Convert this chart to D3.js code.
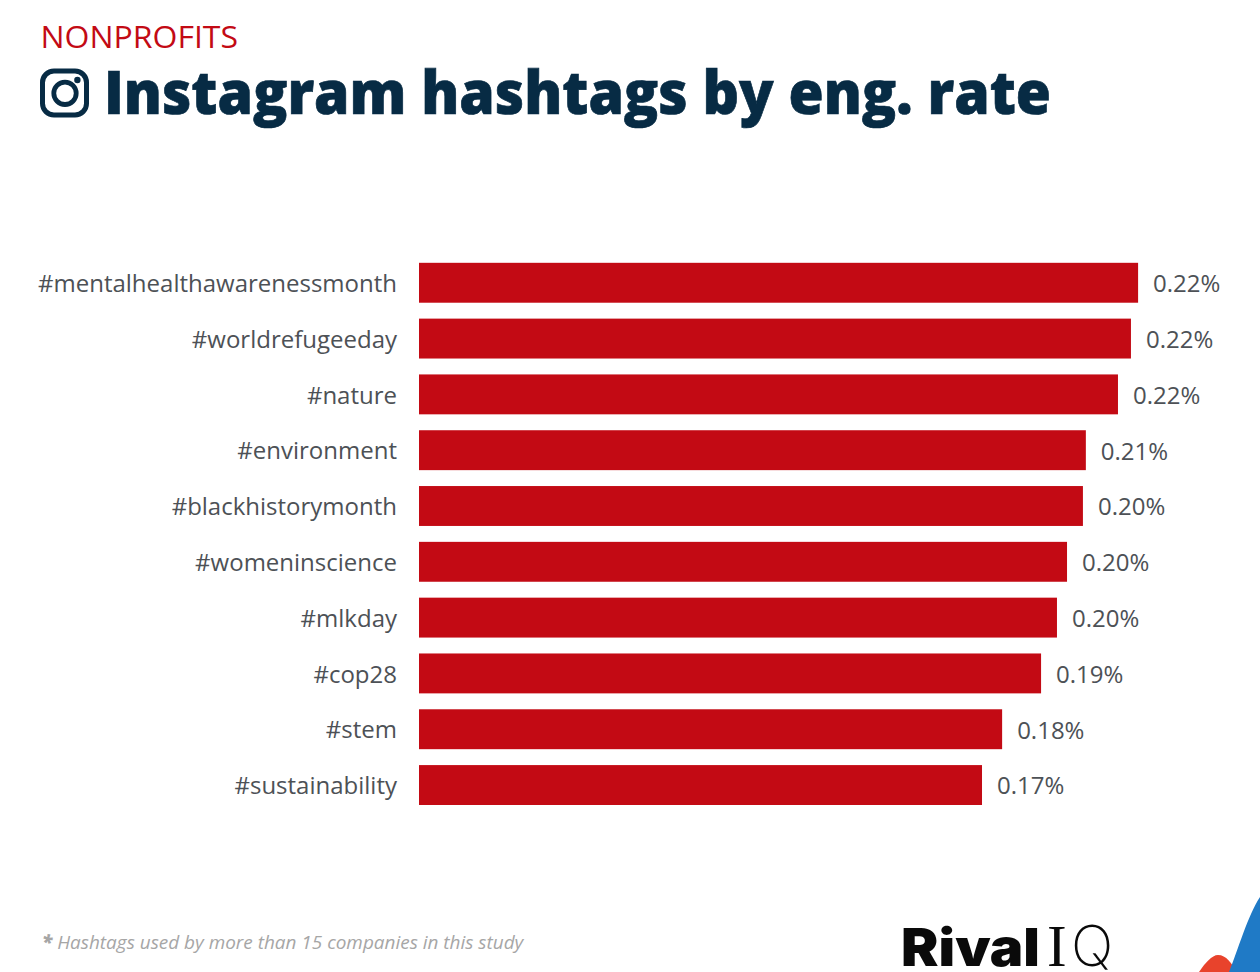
<!DOCTYPE html>
<html><head><meta charset="utf-8">
<script src="https://cdn.jsdelivr.net/npm/d3@7"></script>
<style>html,body{margin:0;padding:0;background:#fff;overflow:hidden}svg{display:block}</style>
</head><body><div id="c"></div>
<script>
const categories=["#mentalhealthawarenessmonth","#worldrefugeeday","#nature","#environment","#blackhistorymonth","#womeninscience","#mlkday","#cop28","#stem","#sustainability"];
const values=[0.2216,0.2194,0.2154,0.2055,0.2046,0.1997,0.1966,0.1917,0.1797,0.1735];
const kicker="NONPROFITS";
const title="Instagram hashtags by eng. rate";
const footnoteMark="*";
const footnote="Hashtags used by more than 15 companies in this study";

const W=1260,H=972;
const svg=d3.select("#c").append("svg").attr("width",W).attr("height",H).attr("viewBox",`0 0 ${W} ${H}`);
const font="'Open Sans',sans-serif";
const red="#c30a14",navy="#072b44",gray="#4d5156";

svg.append("text").attr("x",40.5).attr("y",48).attr("font-family",font).attr("font-size",31.5).attr("fill",red).attr("textLength",197.5).attr("lengthAdjust","spacingAndGlyphs").text(kicker);
svg.append("text").attr("x",104).attr("y",114).attr("font-family",font).attr("font-weight",800).attr("font-size",60).attr("fill",navy).attr("stroke",navy).attr("stroke-width",0.7).attr("textLength",947).attr("lengthAdjust","spacingAndGlyphs").text(title);

// Instagram glyph
const ig=svg.append("g").attr("fill","none").attr("stroke",navy);
ig.append("rect").attr("x",42.5).attr("y",71).attr("width",44).attr("height",44).attr("rx",11.5).attr("stroke-width",5);
ig.append("circle").attr("cx",65).attr("cy",93.3).attr("r",11.2).attr("stroke-width",4.8);
ig.append("circle").attr("cx",77.4).attr("cy",80).attr("r",3.2).attr("fill",navy).attr("stroke","none");

// chart
const x=d3.scaleLinear().domain([0,0.25]).range([419,419+811.25]);
const y=d3.scaleBand().domain(categories).range([255,812.8]).paddingInner(0.285).paddingOuter(0.14);
const fmt=d3.format(".2f");

svg.append("g").selectAll("rect").data(categories).join("rect")
 .attr("x",x(0)).attr("y",d=>y(d)).attr("width",(d,i)=>x(values[i])-x(0)).attr("height",y.bandwidth()).attr("fill",red);

const yAxis=d3.axisLeft(y).tickSize(0).tickPadding(22);
const ax=svg.append("g").attr("transform",`translate(${x(0)},0.5)`).call(yAxis);
ax.select(".domain").remove();
ax.selectAll("text").attr("font-family",font).attr("font-size",24).attr("fill",gray).attr("dy","0.36em");

svg.append("g").selectAll("text").data(categories).join("text")
 .attr("x",(d,i)=>x(values[i])+15).attr("y",d=>y(d)+y.bandwidth()/2+0.5).attr("dy","0.37em")
 .attr("font-family",font).attr("font-size",24).attr("fill",gray)
 .text((d,i)=>fmt(values[i])+"%");

// footnote
const fn=svg.append("text").attr("x",42).attr("y",949).attr("font-family",font).attr("font-style","italic").attr("font-size",18.95).attr("fill","#a6a6a6");
fn.append("tspan").attr("font-weight",800).text(footnoteMark+" ");
fn.append("tspan").text(footnote);

// logo
svg.append("text").attr("x",901).attr("y",966).attr("font-family","Inter,sans-serif").attr("font-weight",900).attr("font-size",52).attr("fill","#0a0a0a").attr("textLength",139).attr("lengthAdjust","spacingAndGlyphs").text("Rival");
const iq=svg.append("text").attr("y",966).attr("fill","#0a0a0a");
iq.append("tspan").attr("x",1047).attr("font-family","'Liberation Serif',serif").attr("font-size",59).text("I");
iq.append("tspan").attr("x",1071).attr("font-family","Inter,sans-serif").attr("font-weight",200).attr("font-size",56).text("Q");
svg.append("path").attr("d","M1199,972 C1205,963 1212,955 1218,955 C1226,955 1232,963 1236,972 Z").attr("fill","#e8432c");
svg.append("path").attr("d","M1229,972 C1238,950 1248,915 1260,897 L1260,972 Z").attr("fill","#1f7ac6");
</script></body></html>
